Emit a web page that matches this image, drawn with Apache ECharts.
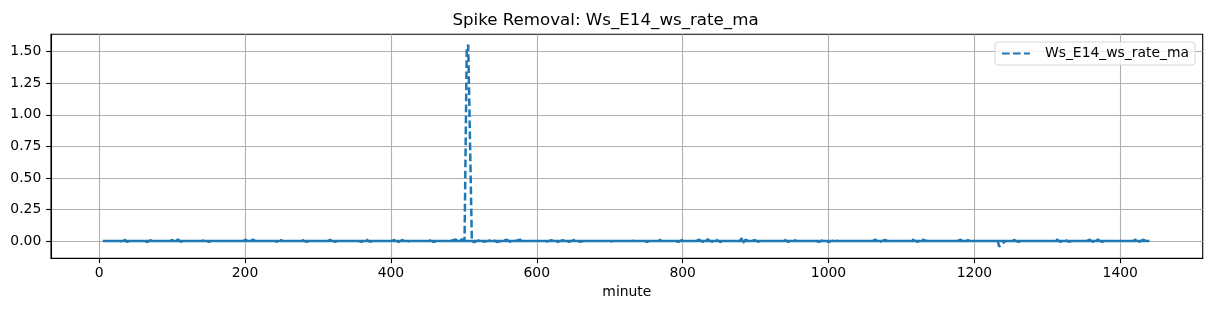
<!DOCTYPE html>
<html><head><meta charset="utf-8">
<script src="https://cdn.jsdelivr.net/npm/echarts@6/dist/echarts.min.js"></script>
<style>html,body{margin:0;padding:0;background:#fff}#c{width:1211px;height:311px}</style>
</head><body><div id="c"></div>
<script>
const chartTitle = 'Spike Removal: Ws_E14_ws_rate_ma';
const seriesName = 'Ws_E14_ws_rate_ma';
const xName = 'minute';
const xTicks = [0, 200, 400, 600, 800, 1000, 1200, 1400];
const yTicks = [0, 0.25, 0.5, 0.75, 1, 1.25, 1.5];

// day 1: [minute, value]
const day1 = [
[5,0],[28,0],[30,0.01],[32,-0.006],[35,0.011],[38,-0.006],[42,0],
[63,0],[66,-0.008],[70,0.006],[74,0],
[97,0],[100,0.008],[104,-0.007],[108,0.013],[112,-0.006],[115,0],
[141,0],[145,0.009],[150,-0.007],[154,0],
[197,0],[201,0.011],[205,-0.008],[211,0.012],[216,-0.007],[220,0],
[241,0],[245,-0.008],[249,0.007],[252,0],
[275,0],[279,0.008],[284,-0.007],[289,0],
[313,0],[318,0.01],[323,-0.007],[327,0],
[355,0],[360,-0.007],[366,0.013],[371,-0.006],[375,0],
[401,0],[405,0.009],[410,-0.008],[416,0.008],[421,-0.007],[426,0],
[449,0],[453,0.008],[458,-0.008],[463,0],
[481,0],[483,0.012],[489,0.013],[493,-0.008],[497,0.012],[501,0.01],[503,0],
[504,1.53],[506,1.555],[507,1.55],[511,0],
[514,-0.008],[520,0.004],[527,-0.006],[533,0],[540,0.011],[545,-0.007],[552,0],[559,0.01],[564,-0.007],[570,0],[577,0.011],[581,-0.006],[585,0],
[608,0],[612,-0.007],[620,0.006],[628,-0.008],[636,0.007],[644,-0.006],[652,0.008],[659,-0.007],[665,0],
[697,0],[700,-0.008],[704,0],[726,0],[729,0.007],[733,0],[748,0],[751,-0.007],[755,0],[766,0],[769,0.008],[773,0],
[790,0],[794,-0.007],[799,0.008],[803,0],
[819,0],[822,0.011],[828,-0.007],[834,0.013],[840,-0.006],[846,0.01],[852,-0.008],[857,0.009],[860,0],
[878,0],[881,0.022],[883,-0.015],[886,0.01],[890,0],
[895,0],[899,0.008],[904,-0.007],[910,0],
[935,0],[939,0.012],[945,-0.007],[951,0.012],[956,0],
[983,0],[987,-0.007],[993,0.009],[1000,-0.008],[1007,0.006],[1014,0],
[1060,0],[1064,0.011],[1070,-0.007],[1077,0.008],[1083,0],
[1112,0],[1116,0.01],[1122,-0.007],[1129,0.011],[1135,0],
[1177,0],[1181,0.01],[1186,-0.008],[1191,0.007],[1194,0],
[1232,0],[1234,-0.045],[1236,-0.05],[1238,-0.02],[1240,-0.01],[1243,0],
[1251,0],[1255,0.008],[1260,-0.007],[1265,0],[1270,0],[1272,-0.008],[1275,0],
[1309,0],[1313,0.012],[1318,-0.007],[1324,0.013],[1329,-0.006],[1334,0],
[1354,0],[1358,0.01],[1363,-0.008],[1369,0.011],[1375,-0.006],[1380,0],
[1417,0],[1421,0.011],[1426,-0.007],[1431,0.01],[1436,0],[1440,0]
];
// following days, overlaid on the same minute-of-day axis
const day2 = [[5,0],[1440,0]];
const day3 = [[5,0],[1440,0]];
const day4 = [[5,0],[1440,0]];
const day5 = [[5,0],[1440,0]];

const seriesData = day1.concat(day2, day3, day4, day5);

const FONT = 'DejaVu Sans';
const chart = echarts.init(document.getElementById('c'), null, {renderer: 'canvas'});
chart.setOption({
  animation: false,
  backgroundColor: '#ffffff',
  textStyle: {fontFamily: FONT},
  title: {
    text: chartTitle, left: 'center', top: 6,
    textStyle: {fontFamily: FONT, fontSize: 16.67, fontWeight: 'normal', color: '#000', lineHeight: 20}
  },
  legend: {
    data: [seriesName],
    right: 16, top: 42,
    orient: 'vertical',
    padding: [4, 6, 4, 6],
    itemWidth: 28, itemHeight: 14,
    itemStyle: {opacity: 0},
    lineStyle: {width: 2.08, type: [7.7, 3.33]},
    borderColor: '#d6d6d6', borderWidth: 1, borderRadius: 3,
    backgroundColor: 'rgba(255,255,255,0.8)',
    textStyle: {fontFamily: FONT, fontSize: 13.9, color: '#000', padding: [0, 0, 0, 10], lineHeight: 15}
  },
  grid: {
    left: 51, right: 8.3, top: 34.3, bottom: 52.7,
    containLabel: false, outerBoundsMode: 'none',
    show: true, borderColor: '#000', borderWidth: 1.1, backgroundColor: 'transparent'
  },
  xAxis: {
    type: 'value', min: -66, max: 1513,
    name: xName, nameLocation: 'middle', nameGap: 27,
    nameTextStyle: {fontFamily: FONT, fontSize: 13.9, color: '#000'},
    axisLine: {show: true, onZero: false, lineStyle: {color: '#000', width: 1.1}},
    axisTick: {show: true, length: 4.86, lineStyle: {color: '#000', width: 1.1}, customValues: xTicks},
    axisLabel: {customValues: xTicks, margin: 8, fontFamily: FONT, fontSize: 13.9, color: '#000',
      formatter: v => String(v)},
    splitLine: {show: true, lineStyle: {color: '#b0b0b0', width: 1.1}}
  },
  yAxis: {
    type: 'value', min: -0.137, max: 1.638,
    axisLine: {show: true, onZero: false, lineStyle: {color: '#000', width: 1.1}},
    axisTick: {show: true, length: 4.86, lineStyle: {color: '#000', width: 1.1}, customValues: yTicks},
    axisLabel: {customValues: yTicks, margin: 9.7, fontFamily: FONT, fontSize: 13.9, color: '#000',
      formatter: v => v.toFixed(2)},
    splitLine: {show: true, lineStyle: {color: '#b0b0b0', width: 1.1}}
  },
  series: [{
    name: seriesName, type: 'line', data: seriesData,
    symbol: 'none', showSymbol: false,
    lineStyle: {color: '#1f77b4', width: 2.5, type: [7.7, 3.33]},
    itemStyle: {color: '#1f77b4'},
    z: 3
  }]
});
</script></body></html>
